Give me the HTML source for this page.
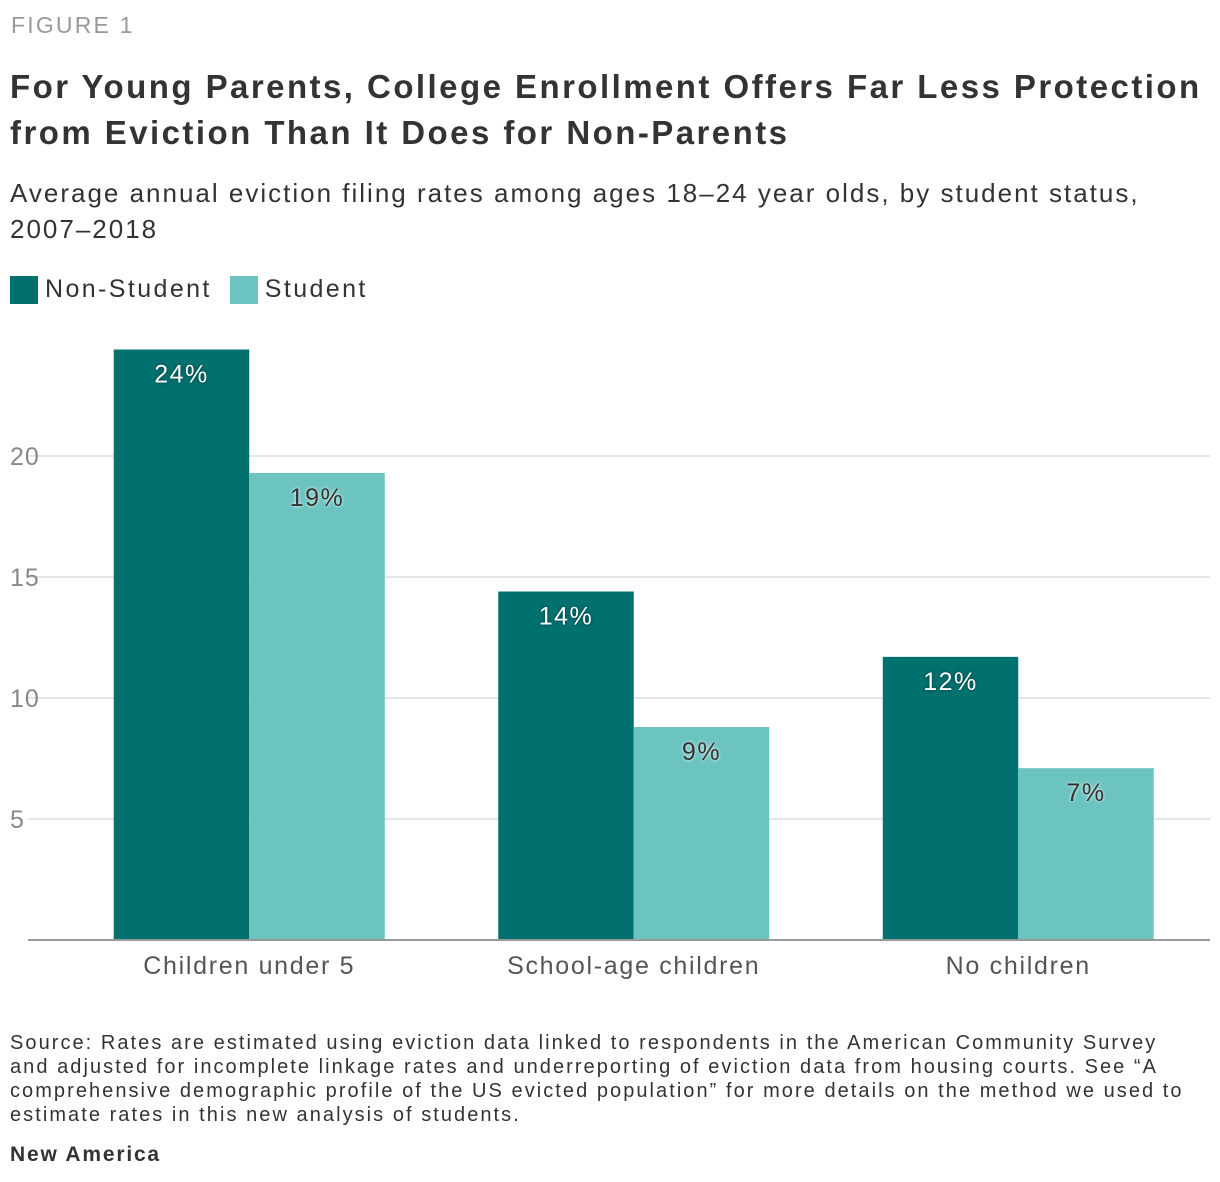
<!DOCTYPE html>
<html><head><meta charset="utf-8"><style>
body{margin:0;width:1220px;height:1182px;background:#fff;font-family:"Liberation Sans",sans-serif;color:#333;position:relative;overflow:hidden}
.abs{position:absolute;white-space:nowrap}
</style></head><body>
<div class="abs" style="left:11px;top:12px;font-size:23px;color:#999;letter-spacing:2.2px">FIGURE 1</div>
<div class="abs" style="left:10px;top:64px;font-size:33px;font-weight:bold;line-height:46px;color:#333;letter-spacing:2.45px">For Young Parents, College Enrollment Offers Far Less Protection<br>from Eviction Than It Does for Non-Parents</div>
<div class="abs" style="left:10px;top:175px;font-size:26px;line-height:36px;color:#333;letter-spacing:2px">Average annual eviction filing rates among ages 18–24 year olds, by student status,<br>2007–2018</div>
<div class="abs" style="left:10px;top:275px;font-size:25px;display:flex;align-items:center;letter-spacing:2.4px">
<span style="width:28px;height:28px;background:#00716f;display:inline-block;margin-right:7px"></span><span style="margin-right:18px">Non-Student</span>
<span style="width:28px;height:28px;background:#6cc4c1;display:inline-block;margin-right:7px"></span><span>Student</span>
</div>
<svg class="abs" style="left:0;top:0" width="1220" height="1182" id="chart"></svg>
<div class="abs" style="left:10px;top:1031px;font-size:20px;line-height:24px;color:#333;letter-spacing:2.05px">Source: Rates are estimated using eviction data linked to respondents in the American Community Survey<br>and adjusted for incomplete linkage rates and underreporting of eviction data from housing courts. See “A<br>comprehensive demographic profile of the US evicted population” for more details on the method we used to<br>estimate rates in this new analysis of students.</div>
<div class="abs" style="left:10px;top:1143px;font-size:21px;font-weight:bold;color:#333;letter-spacing:1.8px">New America</div>
<script>
const categories=["Children under 5","School-age children","No children"];
const nonStudent=[24.4,14.4,11.7];
const student=[19.3,8.8,7.1];
const ticks=[5,10,15,20];
const NS="http://www.w3.org/2000/svg";
const svg=document.getElementById('chart');
const y0=940,pxPerUnit=24.2,xStart=57,band=384.5,barW=135.5;
const y=v=>y0-v*pxPerUnit;
function mk(t,a){const e=document.createElementNS(NS,t);for(const k in a)e.setAttribute(k,a[k]);svg.appendChild(e);return e;}
ticks.forEach(t=>{
 const l=mk('line',{x1:28,x2:1210,y1:y(t),y2:y(t),stroke:'#ddd','stroke-width':1.5});
 
 
 const tx=mk('text',{x:10,y:y(t)+9,'font-size':25,fill:'#888','font-family':'Liberation Sans, sans-serif','letter-spacing':1});
 tx.textContent=t;
 
 
});
categories.forEach((c,i)=>{
 const cx=xStart+band*(i+0.5);
 [[nonStudent[i],cx-barW,'#00716f','#fff','non-student'],[student[i],cx,'#6cc4c1','#333','student']].forEach(([v,x,col,tc,nm])=>{
  const r=mk('rect',{x:x,y:y(v),width:barW,height:y0-y(v),fill:col});
  
  
  const t=mk('text',{x:x+barW/2,y:y(v)+33,'font-size':25,fill:tc,'text-anchor':'middle','letter-spacing':1.5,'font-family':'Liberation Sans, sans-serif',style:'text-shadow:0 0 3px '+(tc=='#fff'?'#033':'#fff')});
  t.textContent=Math.round(v)+'%';
  
  
 });
 const lb=mk('text',{x:cx,y:974,'font-size':25,fill:'#555','text-anchor':'middle','letter-spacing':1.7,'font-family':'Liberation Sans, sans-serif'});
 lb.textContent=c;
 
 
});
const ax=mk('line',{x1:28,x2:1210,y1:y0,y2:y0,stroke:'#999','stroke-width':2});


</script>
</body></html>
